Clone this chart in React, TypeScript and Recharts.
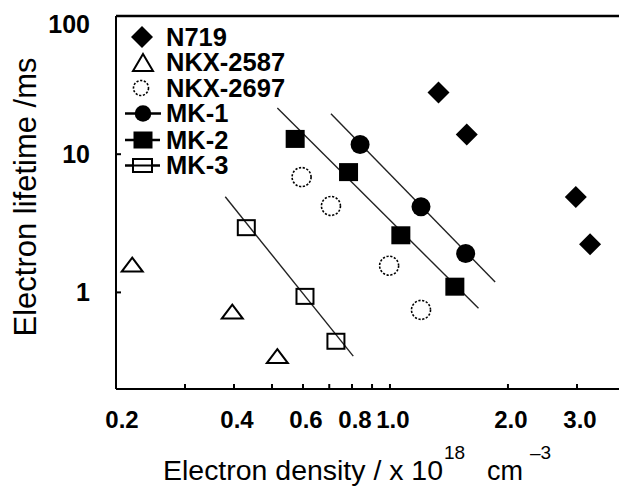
import { Label, Legend, ReferenceLine, Scatter, ScatterChart, XAxis, YAxis } from 'recharts'

const FONT = '"Liberation Sans", Arial, Helvetica, sans-serif'

// electron density (x 10^18 cm^-3) and lifetime (ms) for each dye
const n719X = [1.33, 1.57, 2.98, 3.24]
const n719Y = [28.0, 13.9, 4.9, 2.23]
const nkx2587X = [0.22, 0.396, 0.516]
const nkx2587Y = [1.59, 0.726, 0.346]
const nkx2697X = [0.595, 0.707, 0.995, 1.2]
const nkx2697Y = [6.83, 4.22, 1.56, 0.747]
const mk1X = [0.839, 1.2, 1.56]
const mk1Y = [11.75, 4.17, 1.91]
const mk2X = [0.573, 0.784, 1.066, 1.464]
const mk2Y = [12.9, 7.42, 2.59, 1.1]
const mk3X = [0.43, 0.607, 0.728]
const mk3Y = [2.94, 0.936, 0.443]

// fitted lines, end points
const mk1FitX = [0.707, 1.855]
const mk1FitY = [19.6, 1.19]
const mk2FitX = [0.516, 1.682]
const mk2FitY = [21.6, 0.767]
const mk3FitX = [0.38, 0.806]
const mk3FitY = [4.92, 0.346]

const xTicks = [0.2, 0.3, 0.4, 0.5, 0.6, 0.7, 0.8, 0.9, 1, 2, 3]
const xTickLabels: Record<string, string> = {
  '0.2': '0.2',
  '0.4': '0.4',
  '0.6': '0.6',
  '0.8': '0.8',
  '1': '1.0',
  '2': '2.0',
  '3': '3.0',
}
const yTicks = [1, 10, 100]
const legendNames = ['N719', 'NKX-2587', 'NKX-2697', 'MK-1', 'MK-2', 'MK-3']

const zip = (xs: number[], ys: number[]) => xs.map((x, i) => ({ x, y: ys[i] }))

const Diamond = ({ cx, cy, r = 11 }: any) => (
  <polygon points={`${cx},${cy - r} ${cx + r},${cy} ${cx},${cy + r} ${cx - r},${cy}`} fill="#000" />
)
const OpenTriangle = ({ cx, cy, w = 21, h = 14 }: any) => (
  <polygon
    points={`${cx},${cy - h / 2} ${cx + w / 2},${cy + h / 2} ${cx - w / 2},${cy + h / 2}`}
    fill="#fff"
    stroke="#000"
    strokeWidth={2}
  />
)
const DotCircle = ({ cx, cy, r = 9.5 }: any) => (
  <circle cx={cx} cy={cy} r={r} fill="#fff" stroke="#000" strokeWidth={1.6} strokeDasharray="2.2 1.6" />
)
const Dot = ({ cx, cy, r = 9.5 }: any) => <circle cx={cx} cy={cy} r={r} fill="#000" />
const Square = ({ cx, cy, w = 19, h = 18 }: any) => (
  <rect x={cx - w / 2} y={cy - h / 2} width={w} height={h} fill="#000" />
)
const OpenSquare = ({ cx, cy, w = 17, h = 15 }: any) => (
  <rect x={cx - w / 2} y={cy - h / 2} width={w} height={h} fill="none" stroke="#000" strokeWidth={2} />
)
const Nothing = () => <g />

function XTick({ x, y, payload }: any) {
  const v = payload.value
  const label = xTickLabels[String(v)]
  return (
    <g>
      {v !== 0.2 && <line x1={x} x2={x} y1={y} y2={y - 5} stroke="#000" strokeWidth={2} />}
      {label && (
        <text
          x={x + (v === 0.2 ? 6 : 3)}
          y={y + 39}
          textAnchor="middle"
          fontSize={24}
          fontWeight="bold"
          fontFamily={FONT}
          fill="#000"
        >
          {label}
        </text>
      )}
    </g>
  )
}

function YTick({ x, y, payload }: any) {
  const v = payload.value
  return (
    <g>
      {v !== 100 && <line x1={x} x2={x + 5} y1={y} y2={y} stroke="#000" strokeWidth={2} />}
      <text
        x={x - 26}
        y={y + (v === 100 ? 17 : 8.5)}
        textAnchor="end"
        fontSize={25}
        fontWeight="bold"
        fontFamily={FONT}
        fill="#000"
      >
        {v}
      </text>
    </g>
  )
}

function LegendBox() {
  const rows = [37, 62.5, 88, 113.5, 140, 165.5]
  const text = { fontSize: 25.5, fontWeight: 'bold' as const, fontFamily: FONT, fill: '#000' }
  return (
    <svg width={300} height={185} style={{ display: 'block' }}>
      <Diamond cx={142} cy={rows[0]} r={11} />
      <OpenTriangle cx={143} cy={rows[1]} w={20} h={17} />
      <DotCircle cx={141} cy={rows[2]} r={7.5} />
      <line x1={125} x2={161} y1={rows[3]} y2={rows[3]} stroke="#000" strokeWidth={2.5} />
      <Dot cx={143} cy={rows[3]} r={8.3} />
      <line x1={125} x2={160} y1={rows[4]} y2={rows[4]} stroke="#000" strokeWidth={2.5} />
      <Square cx={143} cy={rows[4]} w={19} h={17} />
      <line x1={125} x2={160} y1={rows[5]} y2={rows[5]} stroke="#000" strokeWidth={2.5} />
      <rect x={133} y={rows[5] - 6.5} width={19} height={13} fill="#fff" stroke="#000" strokeWidth={2} />
      <line x1={133} x2={152} y1={rows[5]} y2={rows[5]} stroke="#000" strokeWidth={2} />
      {legendNames.map((name, i) => (
        <text key={name} x={166} y={rows[i] + 8.5} {...text}>
          {name}
        </text>
      ))}
    </svg>
  )
}

export default function App() {
  const fitLine = { stroke: '#222', strokeWidth: 1.4 }
  return (
    <div style={{ position: 'absolute', left: 0, top: 0, background: '#fff' }}>
      <ScatterChart width={619} height={490} margin={{ top: 16, right: 0, bottom: 0, left: 0 }}>
        <XAxis
          type="number"
          dataKey="x"
          scale="log"
          domain={[0.2, 3.84]}
          allowDataOverflow
          ticks={xTicks}
          interval={0}
          tick={<XTick />}
          tickLine={false}
          tickSize={0}
          tickMargin={0}
          height={101}
          axisLine={{ stroke: '#000', strokeWidth: 2 }}
        >
          <Label
            content={() => (
              <g fontFamily={FONT} fill="#000">
                <text x={163} y={480} fontSize={27} textLength={280} lengthAdjust="spacingAndGlyphs">
                  Electron density / x 10
                </text>
                <text x={444} y={459} fontSize={19}>
                  18
                </text>
                <text x={487} y={480} fontSize={27} textLength={36} lengthAdjust="spacingAndGlyphs">
                  cm
                </text>
                <text x={530} y={459} fontSize={19}>
                  –3
                </text>
              </g>
            )}
          />
        </XAxis>
        <YAxis
          type="number"
          dataKey="y"
          scale="log"
          domain={[0.2, 100]}
          allowDataOverflow
          ticks={yTicks}
          interval={0}
          tick={<YTick />}
          tickLine={false}
          tickSize={0}
          tickMargin={0}
          width={116}
          axisLine={{ stroke: '#000', strokeWidth: 2 }}
        >
          <Label
            content={() => (
              <text
                x={36}
                y={197}
                transform="rotate(-90 36 197)"
                textAnchor="middle"
                fontSize={31}
                fontFamily={FONT}
                fill="#000"
              >
                Electron lifetime /ms
              </text>
            )}
          />
        </YAxis>
        <ReferenceLine y={100} stroke="#000" strokeWidth={2.5} />
        <Scatter data={zip(mk1FitX, mk1FitY)} line={fitLine} shape={<Nothing />} isAnimationActive={false} />
        <Scatter data={zip(mk2FitX, mk2FitY)} line={fitLine} shape={<Nothing />} isAnimationActive={false} />
        <Scatter data={zip(mk3FitX, mk3FitY)} line={fitLine} shape={<Nothing />} isAnimationActive={false} />
        <Scatter name="N719" data={zip(n719X, n719Y)} shape={(p: any) => <Diamond cx={p.cx} cy={p.cy} />} isAnimationActive={false} />
        <Scatter name="NKX-2587" data={zip(nkx2587X, nkx2587Y)} shape={(p: any) => <OpenTriangle cx={p.cx} cy={p.cy} />} isAnimationActive={false} />
        <Scatter name="NKX-2697" data={zip(nkx2697X, nkx2697Y)} shape={(p: any) => <DotCircle cx={p.cx} cy={p.cy} />} isAnimationActive={false} />
        <Scatter name="MK-1" data={zip(mk1X, mk1Y)} shape={(p: any) => <Dot cx={p.cx} cy={p.cy} />} isAnimationActive={false} />
        <Scatter name="MK-2" data={zip(mk2X, mk2Y)} shape={(p: any) => <Square cx={p.cx} cy={p.cy} />} isAnimationActive={false} />
        <Scatter name="MK-3" data={zip(mk3X, mk3Y)} shape={(p: any) => <OpenSquare cx={p.cx} cy={p.cy} />} isAnimationActive={false} />
        <Legend
          content={<LegendBox />}
          layout="vertical"
          align="center"
          verticalAlign="middle"
          wrapperStyle={{ position: 'absolute', left: 0, top: 0, width: 300, height: 185 }}
        />
      </ScatterChart>
    </div>
  )
}
